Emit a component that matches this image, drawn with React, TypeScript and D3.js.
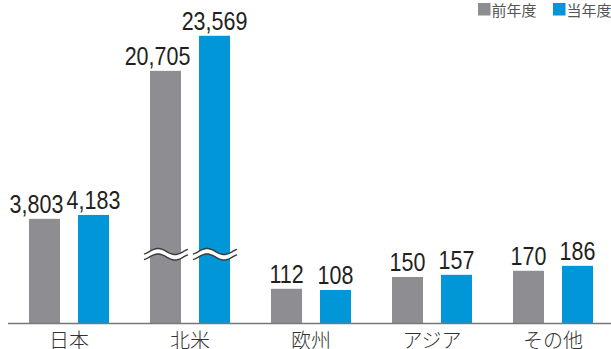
import React from "react";
import * as d3 from "d3";

// Regions and yearly figures
const categories = ["日本", "北米", "欧州", "アジア", "その他"];
const previousYear = [3803, 20705, 112, 150, 170];
const currentYear = [4183, 23569, 108, 157, 186];
const seriesNames = ["前年度", "当年度"];
const brokenCategories = ["北米"];

const WIDTH = 611;
const HEIGHT = 349;
const BASELINE = 323.5;
const COLORS = ["#8e8e92", "#0096d8"];

// Piecewise value axis: the large values are compressed so that
// small regions stay readable next to the very tall bars.
const yHeight = d3
  .scaleLinear()
  .domain([0, 200, 4000, 20000, 24000])
  .range([0, 62, 107, 244, 293]);

const x0 = d3.scaleBand().domain(categories).range([8.5, 613.5]).padding(0);
const x1 = d3
  .scaleBand()
  .domain(seriesNames)
  .range([0, x0.bandwidth()])
  .paddingInner(18 / 49)
  .paddingOuter(0.418);

const fmt = d3.format(",");

function wavePath(xStart: number, xEnd: number, yc: number, peakX: number) {
  return d3.range(xStart, xEnd + 0.5, 1).map((x) => [
    x,
    yc - 3 * Math.cos((2 * Math.PI * (x - peakX)) / 34),
  ]) as [number, number][];
}

function BreakMark({ x, w }: { x: number; w: number }) {
  const yTop = BASELINE - 72;
  const gap = 5.5;
  const xs = x - 6;
  const xe = x + w + 7;
  const peak = x + 8;
  const top = wavePath(xs, xe, yTop, peak);
  const bottom = wavePath(xs, xe, yTop + gap, peak);
  const line = d3.line();
  const band = [...top, ...bottom.slice().reverse()];
  return (
    <g>
      <path d={line(band) + "Z"} fill="#ffffff" />
      <path d={line(top) ?? ""} fill="none" stroke="#3a3a3a" strokeWidth={1.4} />
      <path d={line(bottom) ?? ""} fill="none" stroke="#3a3a3a" strokeWidth={1.4} />
    </g>
  );
}

export default function App() {
  const series = [previousYear, currentYear];
  return (
    <svg
      width={WIDTH}
      height={HEIGHT}
      style={{ position: "absolute", left: 0, top: 0, background: "#fff" }}
    >
      {/* bars */}
      {categories.map((cat, i) => (
        <g key={cat}>
          {seriesNames.map((s, j) => {
            const v = series[j][i];
            const h = yHeight(v);
            const bx = (x0(cat) ?? 0) + (x1(s) ?? 0);
            const bw = x1.bandwidth();
            // wide previous-year labels lean left to keep clear of their neighbour
            const dx = j === 0 && v >= 1000 ? -8 : 0;
            return (
              <g key={s}>
                <rect x={bx} y={BASELINE - h} width={bw} height={h} fill={COLORS[j]} />
                <text
                  transform={`translate(${bx + bw / 2 + dx},${BASELINE - h - 6}) scale(0.86,1)`}
                  textAnchor="middle"
                  fontFamily="'Liberation Sans', Arial, sans-serif"
                  fontSize={25}
                  fill="#231f20"
                >
                  {fmt(v)}
                </text>
              </g>
            );
          })}
          {brokenCategories.includes(cat) &&
            seriesNames.map((s) => (
              <BreakMark
                key={s}
                x={(x0(cat) ?? 0) + (x1(s) ?? 0)}
                w={x1.bandwidth()}
              />
            ))}
        </g>
      ))}

      {/* baseline */}
      <line x1={8} x2={611} y1={BASELINE} y2={BASELINE} stroke="#777" strokeWidth={1.5} />

      {/* category labels */}
      {categories.map((cat) => (
        <text
          key={cat}
          x={(x0(cat) ?? 0) + x0.bandwidth() / 2}
          y={348}
          textAnchor="middle"
          fontFamily="'Noto Sans CJK JP', sans-serif"
          fontWeight={300}
          fontSize={20}
          fill="#333"
        >
          {cat}
        </text>
      ))}

      {/* legend */}
      {seriesNames.map((s, j) => {
        const lx = j === 0 ? 478 : 553;
        return (
          <g key={s}>
            <rect x={lx} y={3} width={12.5} height={12.5} fill={COLORS[j]} />
            <text
              x={lx + 13.5}
              y={15.5}
              fontFamily="'Noto Sans CJK JP', sans-serif"
              fontSize={15}
              fill="#555"
            >
              {s}
            </text>
          </g>
        );
      })}
    </svg>
  );
}
